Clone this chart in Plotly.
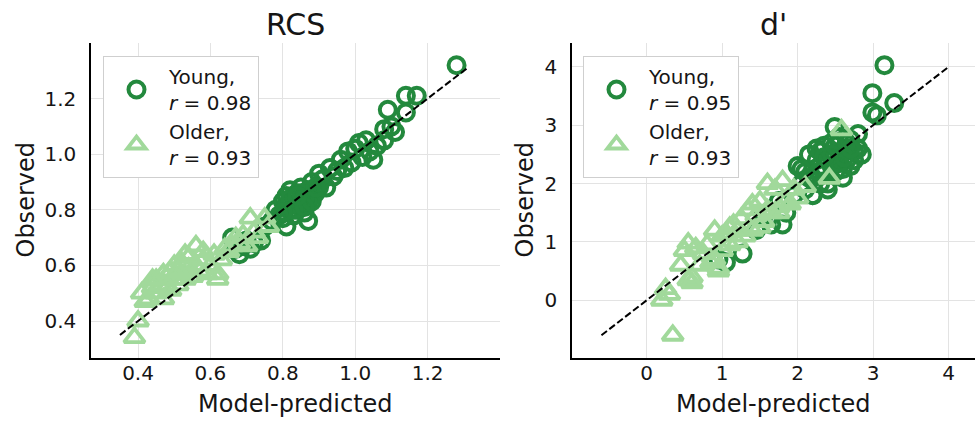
import plotly.graph_objects as go

# ---------------- data ----------------
rcs_young_x = [0.66,0.67,0.69,0.70,0.72,0.74,0.75,0.77,0.78,0.79,0.80,0.80,0.81,0.81,0.82,
               0.82,0.83,0.83,0.84,0.84,0.85,0.85,0.86,0.86,0.87,0.87,0.88,0.88,0.89,0.90,
               0.90,0.91,0.92,0.93,0.94,0.95,0.96,0.97,0.98,0.99,1.00,1.01,1.02,1.03,1.04,
               1.05,1.06,1.08,1.09,1.10,1.14,1.14,1.17,1.28,0.81,0.87,0.68,0.71,1.08,1.11,
               0.82,0.84,0.85,0.86,0.88,0.83,0.86,0.89,0.80,0.84]
rcs_young_y = [0.70,0.66,0.67,0.69,0.68,0.69,0.74,0.76,0.80,0.78,0.83,0.77,0.74,0.85,0.80,
               0.87,0.82,0.78,0.86,0.80,0.84,0.88,0.82,0.79,0.87,0.76,0.85,0.90,0.86,0.93,
               0.88,0.91,0.88,0.95,0.92,0.94,0.98,0.95,1.01,0.97,1.02,1.04,0.99,1.05,1.01,
               0.98,1.03,1.05,1.16,1.10,1.21,1.15,1.21,1.32,0.81,0.83,0.64,0.66,1.09,1.08,
               0.84,0.82,0.86,0.84,0.83,0.80,0.81,0.88,0.79,0.85]
rcs_older_x = [0.39,0.40,0.41,0.42,0.43,0.44,0.45,0.45,0.46,0.47,0.47,0.48,0.48,0.49,0.50,
               0.50,0.51,0.52,0.52,0.53,0.54,0.54,0.55,0.56,0.56,0.57,0.58,0.59,0.60,0.61,
               0.62,0.63,0.64,0.65,0.66,0.67,0.68,0.69,0.70,0.71,0.72,0.73,0.75,0.76,0.49,
               0.53,0.58,0.62,0.44,0.51]
rcs_older_y = [0.34,0.40,0.50,0.47,0.48,0.52,0.50,0.55,0.53,0.57,0.48,0.56,0.52,0.58,0.55,
               0.60,0.53,0.57,0.61,0.55,0.59,0.63,0.56,0.67,0.60,0.58,0.62,0.57,0.60,0.64,
               0.57,0.62,0.66,0.65,0.67,0.70,0.68,0.71,0.67,0.77,0.72,0.70,0.77,0.74,0.51,
               0.64,0.65,0.55,0.55,0.58]

d_young_x = [0.95,1.05,1.27,1.45,1.55,1.65,1.75,1.85,1.95,2.0,2.05,2.1,2.1,2.15,2.2,
             2.2,2.25,2.25,2.3,2.3,2.35,2.35,2.4,2.4,2.45,2.45,2.5,2.5,2.55,2.55,
             2.6,2.6,2.65,2.65,2.7,2.7,2.75,2.8,2.8,2.85,2.49,2.99,3.05,2.99,3.15,
             3.28,2.2,2.4,2.6,1.8,
             2.05,2.15,2.3,2.45,2.55,2.65,2.75,2.35,2.5,2.62,2.7,2.28]
d_young_y = [0.7,0.65,0.8,1.2,1.45,1.3,1.7,1.5,1.8,2.3,2.0,1.9,2.2,2.5,2.1,
             1.8,2.4,2.6,2.0,2.3,2.65,2.2,2.4,1.9,2.3,2.7,2.5,2.2,2.8,2.4,
             2.55,2.25,2.6,2.4,2.3,2.75,2.55,2.6,2.85,2.5,2.97,3.22,3.17,3.55,4.03,
             3.38,1.8,2.0,2.1,1.3,
             2.25,2.1,2.55,2.5,2.35,2.7,2.4,2.45,2.65,2.45,2.6,2.2]
d_older_x = [0.2,0.25,0.345,0.45,0.5,0.55,0.55,0.6,0.65,0.7,0.75,0.8,0.85,0.9,0.9,
             0.95,1.0,1.0,1.05,1.1,1.15,1.2,1.25,1.3,1.35,1.4,1.45,1.5,1.5,1.55,
             1.6,1.6,1.65,1.7,1.75,1.8,1.85,1.9,1.95,2.0,2.1,2.42,2.58,0.6,1.2,
             1.4,0.95,1.75,0.3,1.1]
d_older_y = [0.0,0.2,-0.6,0.6,0.85,0.98,0.35,0.4,0.9,0.6,0.8,0.95,0.65,1.2,0.7,
             0.5,0.85,1.1,1.15,0.95,1.3,1.0,1.4,1.1,1.55,1.2,1.45,1.7,1.25,1.35,
             2.0,1.55,1.5,1.9,1.6,2.05,1.7,1.65,1.9,1.75,1.95,2.09,2.92,0.3,1.2,
             1.65,0.55,1.5,0.1,1.25]

rcs_diag = [0.35, 1.31]
d_diag = [-0.6, 3.99]

rcs_r = {"Young": 0.98, "Older": 0.93}
d_r = {"Young": 0.95, "Older": 0.93}

rcs_ticks = [0.4, 0.6, 0.8, 1.0, 1.2]
rcs_ticktext = ["0.4", "0.6", "0.8", "1.0", "1.2"]
d_ticks = [0, 1, 2, 3, 4]
d_ticktext = ["0", "1", "2", "3", "4"]

titles = ["RCS", "d'"]

# ---------------- style ----------------
DARK = "#23893d"
LIGHT = "#a1d99b"
FONT = "DejaVu Sans"
TXT = "#151515"
W, H = 976, 428

def px_x(p):
    return p / W

def px_y(p):
    return 1 - p / H

fig = go.Figure()

def add_panel(xa, ya, leg, yx, yy, ox, oy, diag, rvals):
    fig.add_trace(go.Scatter(
        x=yx, y=yy, mode="markers", xaxis=xa, yaxis=ya, legend=leg,
        name=f"Young,<br><i>r</i> = {rvals['Young']:.2f}",
        marker=dict(symbol="circle-open", size=16, color=DARK, line=dict(width=4, color=DARK)),
    ))
    fig.add_trace(go.Scatter(
        x=ox, y=oy, mode="markers", xaxis=xa, yaxis=ya, legend=leg,
        name=f"Older,<br><i>r</i> = {rvals['Older']:.2f}",
        marker=dict(symbol="triangle-up-open", size=18, color=LIGHT, line=dict(width=3.8, color=LIGHT)),
    ))
    fig.add_trace(go.Scatter(
        x=diag, y=diag, mode="lines", xaxis=xa, yaxis=ya, showlegend=False,
        line=dict(color="black", width=2, dash="7px,3px"), hoverinfo="skip",
    ))

add_panel("x", "y", "legend", rcs_young_x, rcs_young_y, rcs_older_x, rcs_older_y, rcs_diag, rcs_r)
add_panel("x2", "y2", "legend2", d_young_x, d_young_y, d_older_x, d_older_y, d_diag, d_r)

axis_common = dict(
    showgrid=True, gridcolor="#e3e3e3", gridwidth=1, zeroline=False,
    showline=True, linecolor="black", linewidth=1.5, mirror=False,
    tickfont=dict(family=FONT, size=20, color=TXT), automargin=False,
)
xtick = dict(ticks="", ticklabelstandoff=-4)
ytick = dict(ticks="outside", ticklen=9, tickcolor="rgba(0,0,0,0)")

L1, R1 = 91, 500
L2, R2 = 572, 975
T, B = 43, 358

fig.update_layout(
    width=W, height=H, margin=dict(l=0, r=0, t=0, b=0),
    plot_bgcolor="white", paper_bgcolor="white",
    font=dict(family=FONT, color=TXT),
    xaxis=dict(domain=[px_x(L1), px_x(R1)], range=[0.27, 1.40], tickvals=rcs_ticks,
               ticktext=rcs_ticktext, anchor="y", **xtick, **axis_common),
    yaxis=dict(domain=[px_y(B), px_y(T)], range=[0.267, 1.40], tickvals=rcs_ticks,
               ticktext=rcs_ticktext, anchor="x", **ytick, **axis_common),
    xaxis2=dict(domain=[px_x(L2), px_x(R2)], range=[-0.99, 4.35], tickvals=d_ticks,
                ticktext=d_ticktext, anchor="y2", **xtick, **axis_common),
    yaxis2=dict(domain=[px_y(B), px_y(T)], range=[-0.99, 4.41], tickvals=d_ticks,
                ticktext=d_ticktext, anchor="x2", **ytick, **axis_common),
    legend=dict(x=px_x(103), y=px_y(56), xanchor="left", yanchor="top",
                bgcolor="white", bordercolor="#cfcfcf", borderwidth=1,
                font=dict(family=FONT, size=20, color=TXT), itemwidth=55,
                valign="middle", tracegroupgap=4),
    legend2=dict(x=px_x(583), y=px_y(56), xanchor="left", yanchor="top",
                 bgcolor="white", bordercolor="#cfcfcf", borderwidth=1,
                 font=dict(family=FONT, size=20, color=TXT), itemwidth=55,
                 valign="middle", tracegroupgap=4),
    showlegend=True,
)

annots = []
for title, l, r in [(titles[0], L1, R1), (titles[1], L2, R2)]:
    cx = (l + r) / 2
    annots.append(dict(text=title, x=px_x(cx), y=px_y(24), xref="paper", yref="paper",
                       showarrow=False, xanchor="center", yanchor="middle",
                       font=dict(family=FONT, size=30, color=TXT)))
    annots.append(dict(text="Model-predicted", x=px_x(cx), y=px_y(404), xref="paper", yref="paper",
                       showarrow=False, xanchor="center", yanchor="middle",
                       font=dict(family=FONT, size=24, color=TXT)))
for xpx in [25, 524]:
    annots.append(dict(text="Observed", x=px_x(xpx), y=px_y((T + B) / 2), xref="paper", yref="paper",
                       showarrow=False, xanchor="center", yanchor="middle", textangle=-90,
                       font=dict(family=FONT, size=24, color=TXT)))
fig.update_layout(annotations=annots)

fig.write_html("out.html")
